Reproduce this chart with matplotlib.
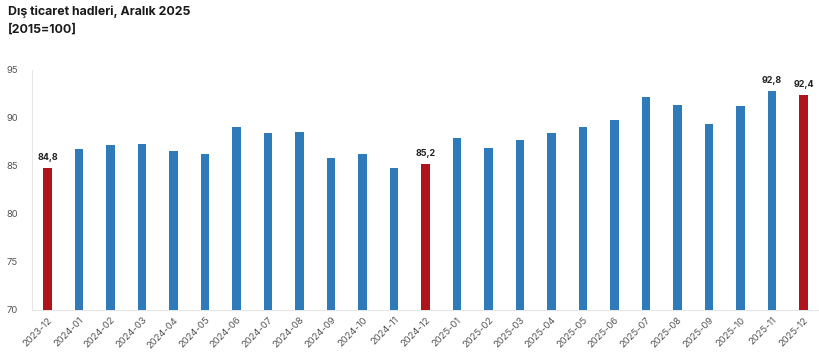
import matplotlib.pyplot as plt

# aylar ve endeks degerleri
months = ["2023-12", "2024-01", "2024-02", "2024-03", "2024-04", "2024-05", "2024-06",
          "2024-07", "2024-08", "2024-09", "2024-10", "2024-11", "2024-12", "2025-01",
          "2025-02", "2025-03", "2025-04", "2025-05", "2025-06", "2025-07", "2025-08",
          "2025-09", "2025-10", "2025-11", "2025-12"]
values = [84.8, 86.8, 87.2, 87.3, 86.5, 86.2, 89.0, 88.4, 88.5, 85.8, 86.2, 84.8, 85.2,
          87.9, 86.9, 87.7, 88.4, 89.1, 89.8, 92.2, 91.3, 89.4, 91.2, 92.8, 92.4]
highlight = ["2023-12", "2024-12", "2025-12"]
labelled = ["2023-12", "2024-12", "2025-11", "2025-12"]

blue = "#2f7bb9"
red = "#b0131b"

plt.rcParams['font.family'] = ['Inter', 'DejaVu Sans']

fig = plt.figure(figsize=(8.2, 3.6), dpi=100)
ax = fig.add_axes([0.039, 0.139, 0.96, 0.667])

x = list(range(len(months)))
colors = [red if m in highlight else blue for m in months]
ax.bar(x, values, width=0.27, color=colors, zorder=3)

for i, m in enumerate(months):
    if m in labelled:
        ax.text(i, values[i] + 0.6, f"{values[i]:.1f}".replace(".", ","),
                ha='center', va='bottom', fontsize=6.5, fontweight='bold', color='#222222')

ax.set_xlim(-0.5, len(months) - 0.5)
ax.set_ylim(70, 95)
ax.set_yticks([70, 75, 80, 85, 90, 95])
ax.set_xticks(x)
ax.set_xticklabels(months, rotation=45, ha='right', rotation_mode='anchor')
ax.tick_params(axis='both', length=0, labelsize=6.8, colors='#555555')
ax.tick_params(axis='y', pad=10)
ax.tick_params(axis='x', pad=4)

for s in ['top', 'right']:
    ax.spines[s].set_visible(False)
ax.spines['left'].set_color('#e6e6e6')
ax.spines['bottom'].set_color('#e6e6e6')

fig.text(0.01, 0.985, "Dış ticaret hadleri, Aralık 2025", fontsize=8.9,
         fontweight='bold', va='top', color='#1a1a1a')
fig.text(0.01, 0.935, "[2015=100]", fontsize=8.9, fontweight='bold', va='top',
         color='#1a1a1a')

fig.savefig("out.png", dpi=100)
